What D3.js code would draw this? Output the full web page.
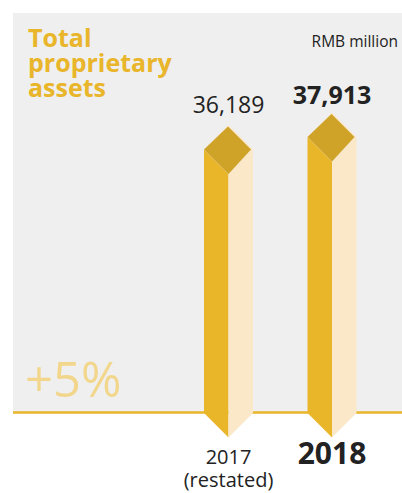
<!DOCTYPE html>
<html>
<head>
<meta charset="utf-8"/>
<title>Total proprietary assets</title>
<script src="https://cdn.jsdelivr.net/npm/d3@7"></script>
<style>
  body { margin:0; background:#fff; }
  svg { display:block; font-family:"Open Sans", sans-serif; }
</style>
</head>
<body>
<div id="chart"></div>
<script>
// data
var years = ["2017", "2018"];
var values = [36189, 37913];
var valueLabels = ["36,189", "37,913"];
var yearSub = ["(restated)", ""];
var titleLines = ["Total", "proprietary", "assets"];
var unitLabel = "RMB million";
var changeLabel = "+5%";

var W = 402, H = 493;
var base = 413;      // baseline (bottom of bars, left/right corners)
var half = 24.5;     // half width of the prism

var svg = d3.select("#chart").append("svg")
  .attr("width", W).attr("height", H);

// grey panel
svg.append("rect")
  .attr("x", 13).attr("y", 13)
  .attr("width", W - 13).attr("height", base - 13)
  .attr("fill", "#efefef");

// gold baseline
svg.append("line")
  .attr("x1", 13).attr("x2", W)
  .attr("y1", base - 0.5).attr("y2", base - 0.5)
  .attr("stroke", "#e8b428").attr("stroke-width", 2.6);

var x = d3.scalePoint().domain(years).range([228.5, 332]);
var y = d3.scaleLinear().domain([0, d3.max(values)]).range([base, 137]);

// title, one text per line
svg.selectAll(".title").data(titleLines).enter().append("text")
  .attr("class", "title")
  .attr("x", 28)
  .attr("y", function (d, i) { return 47 + i * 25; })
  .attr("fill", "#e9b52a")
  .attr("font-weight", "bold")
  .attr("font-size", 25)
  .text(function (d) { return d; });

svg.append("text")
  .attr("x", 398).attr("y", 47)
  .attr("text-anchor", "end")
  .attr("font-size", 15.5)
  .attr("fill", "#222")
  .text(unitLabel);

svg.append("text")
  .attr("x", 25).attr("y", 397)
  .attr("font-size", 49)
  .attr("font-weight", 400)
  .attr("fill", "#f2d68c")
  .text(changeLabel);

// bars as prisms
var g = svg.selectAll(".bar").data(years).enter().append("g").attr("class", "bar");

function pts(a) { return a.map(function (p) { return p.join(","); }).join(" "); }

g.each(function (d, i) {
  var cx = x(d), L = cx - half, R = cx + half, t = y(values[i]);
  var sel = d3.select(this);
  // front face
  sel.append("polygon")
    .attr("points", pts([[L, t], [cx, t + half], [cx, base + half], [L, base]]))
    .attr("fill", "#e9b62a");
  // right face
  sel.append("polygon")
    .attr("points", pts([[cx, t + half], [R, t], [R, base], [cx, base + half]]))
    .attr("fill", "#fae8c8");
  // top
  sel.append("polygon")
    .attr("points", pts([[cx, t - half], [R, t], [cx, t + half], [L, t]]))
    .attr("fill", "#fae8c8");
  sel.append("polygon")
    .attr("points", pts([[cx - 0.5, t - half + 1.5], [R - 2, t], [cx, t + half], [L, t]]))
    .attr("fill", "#cfa228");
});

// value labels
g.append("text")
  .attr("x", function (d) { return x(d); })
  .attr("y", function (d, i) { return y(values[i]) - half - (i == 1 ? 9 : 12); })
  .attr("text-anchor", "middle")
  .attr("font-size", function (d, i) { return i == 1 ? 25 : 23; })
  .attr("font-weight", function (d, i) { return i == 1 ? "bold" : "normal"; })
  .attr("fill", "#222")
  .text(function (d, i) { return valueLabels[i]; });

// year labels
g.append("text")
  .attr("x", function (d) { return x(d); })
  .attr("y", 464)
  .attr("text-anchor", "middle")
  .attr("font-size", function (d, i) { return i == 1 ? 30 : 20; })
  .attr("font-weight", function (d, i) { return i == 1 ? "bold" : "normal"; })
  .attr("fill", "#222")
  .text(function (d) { return d; });

g.append("text")
  .attr("x", function (d) { return x(d); })
  .attr("y", 487)
  .attr("text-anchor", "middle")
  .attr("font-size", 20)
  .attr("fill", "#222")
  .text(function (d, i) { return yearSub[i]; });
</script>
</body>
</html>
